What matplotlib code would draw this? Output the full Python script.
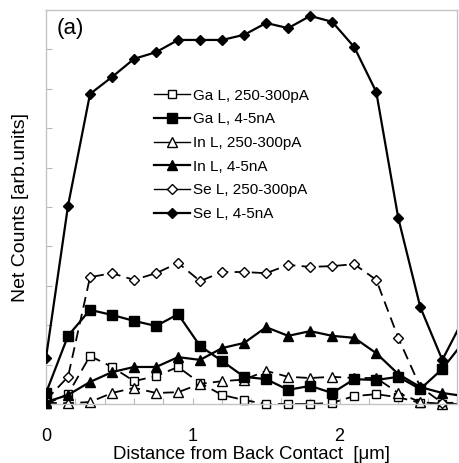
import numpy as np
import matplotlib.pyplot as plt
from matplotlib.patches import Rectangle
from matplotlib.ticker import MultipleLocator

plt.rcParams.update({
    'font.family': ['Liberation Sans', 'DejaVu Sans'],
    'font.size': 12,
})

# distance from back contact [um]
distance = [0.0, 0.15, 0.30, 0.45, 0.60, 0.75, 0.90, 1.05, 1.20, 1.35,
            1.50, 1.65, 1.80, 1.95, 2.10, 2.25, 2.40, 2.55, 2.70, 2.85]

ga_low = [0.0, 0.25, 1.22, 0.94, 0.58, 0.71, 0.94, 0.53, 0.23, 0.10,
          0.0, 0.0, 0.0, 0.03, 0.20, 0.25, 0.17, 0.03, 0.0, 0.0]
ga_high = [0.28, 1.73, 2.39, 2.26, 2.11, 1.98, 2.28, 1.47, 1.09, 0.69,
           0.63, 0.36, 0.46, 0.28, 0.63, 0.61, 0.69, 0.38, 0.89, 1.6]
in_low = [0.03, 0.02, 0.05, 0.28, 0.41, 0.28, 0.30, 0.51, 0.58, 0.62,
          0.84, 0.69, 0.66, 0.69, 0.66, 0.66, 0.28, 0.05, 0.0, 0.0]
in_high = [0.05, 0.23, 0.56, 0.81, 0.94, 0.94, 1.19, 1.12, 1.42, 1.55,
           1.95, 1.73, 1.85, 1.73, 1.68, 1.29, 0.76, 0.43, 0.28, 0.2]
se_low = [0.10, 0.69, 3.22, 3.32, 3.15, 3.32, 3.58, 3.12, 3.35, 3.35,
          3.32, 3.53, 3.48, 3.50, 3.55, 3.15, 1.68, 0.43, 0.03, 0.03]
se_high = [1.17, 5.03, 7.87, 8.30, 8.76, 8.93, 9.24, 9.24, 9.24, 9.37,
           9.67, 9.54, 9.85, 9.70, 9.06, 7.92, 4.72, 2.46, 1.12, 2.2]

labels = ['Ga L, 250-300pA', 'Ga L, 4-5nA', 'In L, 250-300pA',
          'In L, 4-5nA', 'Se L, 250-300pA', 'Se L, 4-5nA']
series = [ga_low, ga_high, in_low, in_high, se_low, se_high]
markers = ['s', 's', '^', '^', 'D', 'D']
filled = [False, True, False, True, False, True]
msizes = [6, 7, 6.5, 7, 5, 5.5]

fig = plt.figure(figsize=(4.59, 4.63), dpi=100)
ax = fig.add_axes([0.1002, 0.1274, 0.8954, 0.851])

# let markers sitting on zero spill a little below the axis line
clip = Rectangle((0, -0.03), 1, 1.03, transform=ax.transAxes,
                 facecolor='none', edgecolor='none')

handles = []
for vals, lab, mk, fill, ms in zip(series, labels, markers, filled, msizes):
    ls = '-' if fill else (0, (6, 3.5))
    lw = 1.6 if fill else 1.3
    line, = ax.plot(distance, vals, linestyle=ls, lw=lw, color='black',
                    marker=mk, ms=ms, mew=1.0, mec='black',
                    mfc='black' if fill else 'white', zorder=3 if fill else 2)
    line.set_clip_path(clip)
    # legend keys are drawn with a plain line
    h, = ax.plot([], [], linestyle='-', lw=1.6 if fill else 1.0, color='black',
                 marker=mk, ms=ms, mew=1.0, mec='black',
                 mfc='black' if fill else 'white')
    handles.append(h)

ax.set_xlim(0, 2.8)
ax.set_ylim(0, 10)

ax.xaxis.set_major_locator(MultipleLocator(1))
ax.xaxis.set_minor_locator(MultipleLocator(0.2))
ax.yaxis.set_major_locator(MultipleLocator(1))
ax.set_yticklabels([])
ax.tick_params(axis='both', which='both', direction='in', color='#b8b8b8',
               length=4, width=0.8)
ax.tick_params(axis='x', which='major', length=4, pad=17, labelsize=13)
ax.tick_params(right=False, top=False)
for sp in ax.spines.values():
    sp.set_color('#c4c4c4')
    sp.set_linewidth(1.0)

ax.set_xlabel('Distance from Back Contact  [\u03bcm]', fontsize=13.4, labelpad=1)
ax.set_ylabel('Net Counts [arb.units]', fontsize=14, labelpad=9)
ax.text(0.026, 0.98, '(a)', transform=ax.transAxes, fontsize=16,
        va='top', ha='left')

ax.legend(handles, labels, loc='upper left', bbox_to_anchor=(0.262, 0.80),
          frameon=False, fontsize=11, handlelength=2.4, handletextpad=0.15,
          labelspacing=0.63, borderpad=0, borderaxespad=0)

fig.savefig('out.png', dpi=100)
